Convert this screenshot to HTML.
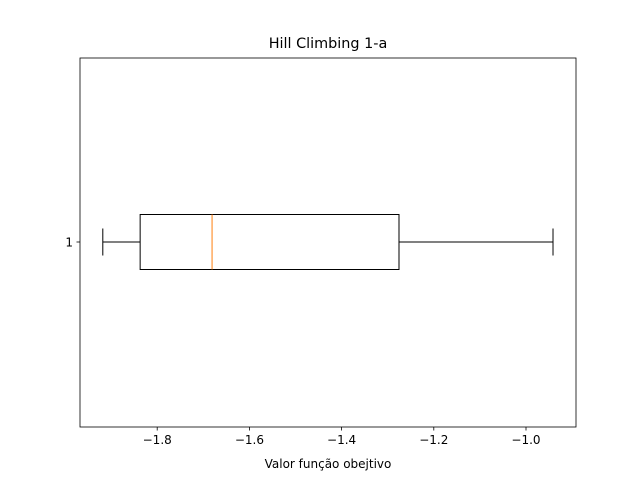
<!DOCTYPE html>
<html><head><meta charset="utf-8"><style>
html,body{margin:0;padding:0;background:#fff;}
svg{display:block;font-family:"DejaVu Sans","Liberation Sans",sans-serif;}
</style></head><body>
<svg id="chart" width="640" height="480" viewBox="0 0 640 480">
<rect width="640" height="480" fill="#fff"/>
<text x="328" y="48" font-size="14.4" text-anchor="middle">Hill Climbing 1-a</text>
<text x="328" y="468" font-size="12" text-anchor="middle">Valor função obejtivo</text>
<g id="plot"></g>
</svg>
<script>
const categories = ["1"];
const whiskerLow = [-1.918];
const q1 = [-1.837];
const median = [-1.681];
const q3 = [-1.2755];
const whiskerHigh = [-0.9414];
const xTicks = [-1.8, -1.6, -1.4, -1.2, -1.0];
const xTickLabels = ["\u22121.8", "\u22121.6", "\u22121.4", "\u22121.2", "\u22121.0"];

const L = 80, R = 576, T = 58, B = 427;
function xs(v){ return 526 + (v + 1) * 461; }
function ys(i){ return 242 + i * 0; }
const NS = "http://www.w3.org/2000/svg";
const g = document.getElementById('plot');
function mk(tag, attrs){ const e = document.createElementNS(NS, tag); for (const k in attrs) e.setAttribute(k, attrs[k]); g.appendChild(e); return e; }

xTicks.forEach((v, i) => {
  const x = xs(v);
  const t = mk('line', {x1:x, x2:x, y1:B, y2:B+3.5, stroke:'#000', 'stroke-width':0.8});
  
  
  const lb = mk('text', {x:x, y:B+17, 'font-size':12, 'text-anchor':'middle'});
  lb.textContent = xTickLabels[i];
  
  
});

categories.forEach((c, i) => {
  const y = ys(i), h = 27.5, cap = 13.5;
  const t = mk('line', {x1:L-3.5, x2:L, y1:y, y2:y, stroke:'#000', 'stroke-width':0.8});
  
  
  const lb = mk('text', {x:L-7, y:y+4.5, 'font-size':12, 'text-anchor':'end'});
  lb.textContent = c;
  
  

  const w1 = mk('line', {x1:xs(whiskerLow[i]), x2:xs(q1[i]), y1:y, y2:y, stroke:'#000', 'stroke-width':1});
  
  
  const w2 = mk('line', {x1:xs(q3[i]), x2:xs(whiskerHigh[i]), y1:y, y2:y, stroke:'#000', 'stroke-width':1});
  
  
  const c1 = mk('line', {x1:xs(whiskerLow[i]), x2:xs(whiskerLow[i]), y1:y-cap, y2:y+cap, stroke:'#000', 'stroke-width':1});
  
  
  const c2 = mk('line', {x1:xs(whiskerHigh[i]), x2:xs(whiskerHigh[i]), y1:y-cap, y2:y+cap, stroke:'#000', 'stroke-width':1});
  
  
  const bx = mk('rect', {x:xs(q1[i]), y:y-h, width:xs(q3[i])-xs(q1[i]), height:2*h, fill:'none', stroke:'#000', 'stroke-width':1});
  
  
  const md = mk('line', {x1:xs(median[i]), x2:xs(median[i]), y1:y-h, y2:y+h, stroke:'#ff7f0e', 'stroke-width':1});
  
  
});

const fr = mk('rect', {x:L, y:T, width:R-L, height:B-T, fill:'none', stroke:'#000', 'stroke-width':0.8});


</script>
</body></html>
